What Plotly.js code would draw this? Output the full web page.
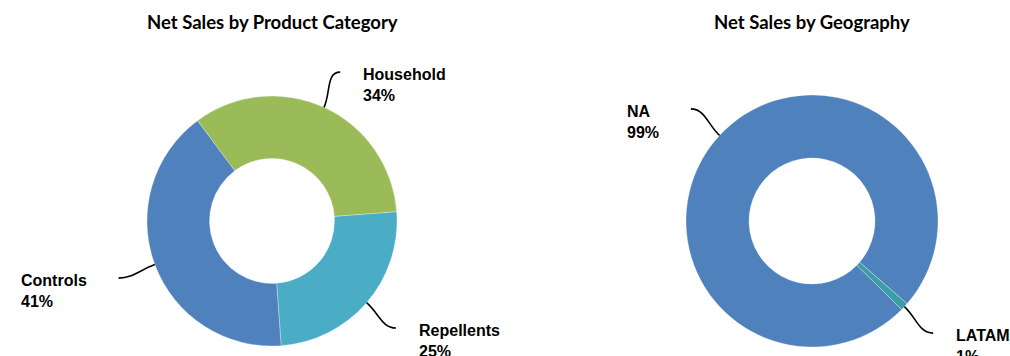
<!DOCTYPE html>
<html>
<head>
<meta charset="utf-8">
<script src="https://cdn.plot.ly/plotly-3.0.1.min.js"></script>
<style>html,body{margin:0;padding:0;background:#fff;}#chart{width:1010px;height:356px;}</style>
</head>
<body>
<div id="chart"></div>
<script>
// ---- data ----
var productCategories = ['Household', 'Repellents', 'Controls'];
var productShares = [34, 25, 41];
var productColors = ['#9BBB59', '#4BACC6', '#4F81BD'];

var geoRegions = ['NA', 'LATAM'];
var geoShares = [99, 1];
var geoColors = ['#4F81BD', '#3B9DA5'];

var chartTitles = ['Net Sales by Product Category', 'Net Sales by Geography'];

// ---- layout geometry ----
var W = 1010, H = 356;
var pies = [
  {labels: productCategories, values: productShares, colors: productColors, cx: 272, cy: 221, r: 125, rotation: -36.6, title: chartTitles[0]},
  {labels: geoRegions, values: geoShares, colors: geoColors, cx: 812, cy: 221, r: 126, rotation: 134.6, title: chartTitles[1]}
];

function px2x(px) { return px / W; }
function py2y(py) { return 1 - py / H; }

var traces = [], annotations = [], shapes = [];
var labelFont = {family: 'Liberation Sans, Arial, sans-serif', size: 16, color: '#000'};

pies.forEach(function (p) {
  traces.push({
    type: 'pie',
    labels: p.labels,
    values: p.values,
    hole: 0.5,
    sort: false,
    direction: 'clockwise',
    rotation: p.rotation,
    textinfo: 'none',
    hoverinfo: 'label+percent',
    marker: {colors: p.colors, line: {color: 'rgba(255,255,255,0.5)', width: 0.6}},
    domain: {x: [px2x(p.cx - p.r), px2x(p.cx + p.r)], y: [py2y(p.cy + p.r), py2y(p.cy - p.r)]},
    showlegend: false
  });

  annotations.push({
    xref: 'paper', yref: 'paper', x: px2x(p.cx), y: py2y(22),
    xanchor: 'center', yanchor: 'middle', showarrow: false,
    text: '<b>' + p.title + '</b>',
    font: {family: 'Lato, Open Sans, sans-serif', size: 18.5, color: '#000'}
  });

  var total = p.values.reduce(function (a, b) { return a + b; }, 0);
  var start = p.rotation;
  p.values.forEach(function (v, i) {
    var span = v / total * 360;
    var mid = (start + span / 2) * Math.PI / 180;
    start += span;
    var sx = Math.sin(mid), sy = -Math.cos(mid);
    var x0 = p.cx + p.r * sx, y0 = p.cy + p.r * sy;
    var re = p.r * 1.31;
    var x3 = p.cx + re * sx, y3 = p.cy + re * sy;
    var side = sx >= 0 ? 1 : -1;
    var x1 = p.cx + (p.r + 16) * sx, y1 = p.cy + (p.r + 16) * sy;
    var x2 = x3 - side * 14, y2 = y3;
    shapes.push({
      type: 'path', xref: 'paper', yref: 'paper',
      path: 'M ' + px2x(x0) + ' ' + py2y(y0) + ' C ' + px2x(x1) + ' ' + py2y(y1) + ', ' +
            px2x(x2) + ' ' + py2y(y2) + ', ' + px2x(x3) + ' ' + py2y(y3),
      line: {color: '#000', width: 1.6}
    });
    var pct = Math.round(v / total * 100) + '%';
    annotations.push({
      xref: 'paper', yref: 'paper',
      x: px2x(side > 0 ? x3 + 21 : x3 - 30), y: py2y(y3 - 8),
      xanchor: side > 0 ? 'left' : 'right', yanchor: 'top', align: 'left',
      showarrow: false,
      text: '<b>' + p.labels[i] + '</b><br><b>' + pct + '</b>',
      font: labelFont
    });
  });
});

var layout = {
  width: W, height: H,
  margin: {l: 0, r: 0, t: 0, b: 0},
  paper_bgcolor: '#fff', plot_bgcolor: '#fff',
  showlegend: false,
  annotations: annotations,
  shapes: shapes
};

Plotly.newPlot('chart', traces, layout, {displayModeBar: false, staticPlot: true});
</script>
</body>
</html>
